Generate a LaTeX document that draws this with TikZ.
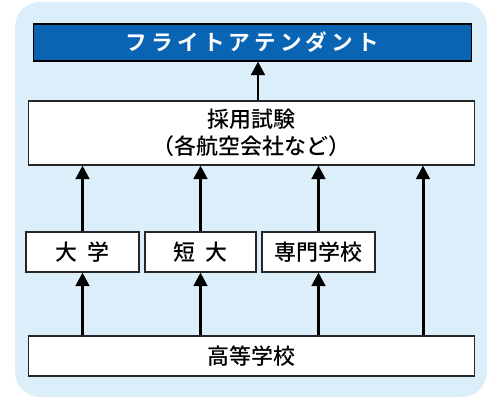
\documentclass[tikz,border=0pt]{standalone}
\usepackage{fontspec}
\usetikzlibrary{positioning}
\usetikzlibrary{arrows.meta}
\newfontfamily\jp{Noto Sans CJK JP Medium}
\newfontfamily\jptitle[LetterSpace=19]{Noto Sans CJK JP Bold}
\definecolor{panel}{RGB}{221,238,251}
\definecolor{titleblue}{RGB}{10,100,180}
\tikzset{>={Triangle[length=0.27cm,width=0.27cm]}}
\tikzset{stage/.style={draw=black!85, line width=0.6pt, fill=white, inner sep=0pt, font=\jp\fontsize{12.5}{15.3}\selectfont}}
\tikzset{goal/.style={draw=black, line width=0.6pt, fill=titleblue, text=white, inner sep=0pt, font=\jptitle\fontsize{12.3}{14}\selectfont}}
\tikzset{flow/.style={->, line width=1.7pt}}

\begin{document}
\begin{tikzpicture}[x=0.02cm, y=-0.02cm]
        \useasboundingbox (0,0) rectangle (500,400);
        \fill[panel, rounded corners=0.5cm] (15,2) rectangle (487,397);

        \node[goal, minimum width=8.78cm, minimum height=0.74cm] (fa) at (252.5,42.5) {フライトアテンダント};
        \node[stage, minimum width=8.94cm, minimum height=1.28cm, align=center] (exam) at (251.5,133) {採用試験\\（各航空会社など）};

        \node[stage, minimum width=2.26cm, minimum height=0.8cm] (univ) at (82.5,252) {大\hspace{0.5em}学};
        \node[stage, minimum width=2.22cm, minimum height=0.8cm] (junior) at (200.5,252) {短\hspace{0.5em}大};
        \node[stage, minimum width=2.26cm, minimum height=0.8cm] (senmon) at (318.5,252) {専門学校};

        \node[stage, minimum width=8.94cm, minimum height=0.8cm] (high) at (251.5,356) {高等学校};

        \coordinate (up) at (258,0);
        \coordinate (bypass) at (423,0);

        \draw[flow] (exam.north -| up) -- (fa.south -| up);

        \draw[flow] (high.north -| univ) -- (univ);
        \draw[flow] (high.north -| junior) -- (junior);
        \draw[flow] (high.north -| senmon) -- (senmon);
        \draw[flow] (high.north -| bypass) -- (exam.south -| bypass);

        \draw[flow] (univ) -- (exam.south -| univ);
        \draw[flow] (junior) -- (exam.south -| junior);
        \draw[flow] (senmon) -- (exam.south -| senmon);
    \end{tikzpicture}
\end{document}
